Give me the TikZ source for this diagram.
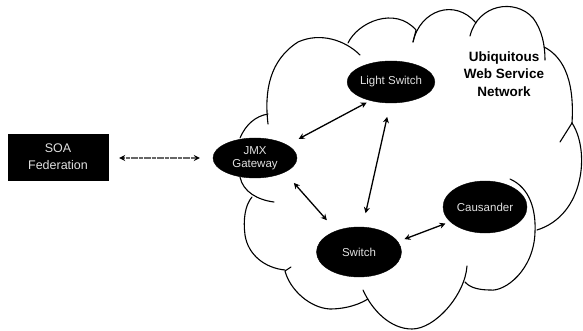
\documentclass[tikz,border=0pt]{standalone}
\usepackage{fontspec}
\setmainfont{Liberation Sans}
\usetikzlibrary{shapes.geometric,arrows.meta}
\tikzset{
  lobe/.style={draw=black,line width=1.1pt,line cap=round},
  dark/.style={ellipse,fill=black,draw=black,inner sep=0pt,text=black!12,align=center,font=\fontsize{11.5}{12.5}\selectfont},
  link/.style={line width=1.3pt,{Stealth[length=6pt,width=6pt]}-{Stealth[length=6pt,width=6pt]}},
  fedlink/.style={line width=2pt,draw=black!60,dash pattern=on 2.2pt off 0.4pt,{Stealth[length=6pt,width=6pt,black]}-{Stealth[length=6pt,width=6pt,black]}}
}
\begin{document}
\begin{tikzpicture}[x=1pt,y=-1pt]
\useasboundingbox (0,0) rectangle (583,331);
% cloud
\draw[lobe] (240,138) .. controls (246,124) and (256,116) .. (268,114);
\draw[lobe] (268,124) .. controls (264,90) and (270,60) .. (298,42) .. controls (320,32) and (345,40) .. (360,55);
\draw[lobe] (348,43) .. controls (358,22) and (395,6) .. (416,30) (416,30) -- (413,42);
\draw[lobe] (413,42) .. controls (420,10) and (455,-2) .. (476,23);
\draw[lobe] (470,36) .. controls (478,4) and (515,-2) .. (533,18) .. controls (542,30) and (545,45) .. (545,60);
\draw[lobe] (544,47) .. controls (560,55) and (575,75) .. (572,123);
\draw[lobe] (560,142) -- (572,123) .. controls (590,150) and (585,215) .. (537,230);
\draw[lobe] (510,179) .. controls (530,188) and (536,210) .. (535,232) .. controls (534,270) and (505,292) .. (490,290) .. controls (480,290) and (470,288) .. (465,282);
\draw[lobe] (467,266) .. controls (465,295) and (435,329) .. (412,329) .. controls (390,329) and (372,310) .. (363,290);
\draw[lobe] (368,299) .. controls (355,307) and (340,309) .. (330,309) .. controls (310,308) and (290,290) .. (285,271) (285,271) -- (291,267);
\draw[lobe] (285,270) .. controls (265,268) and (248,255) .. (245,235) .. controls (243,220) and (245,205) .. (252,197);
\draw[lobe] (274,202) .. controls (258,200) and (243,192) .. (240,177);
% nodes
\node[fill=black,draw=black,minimum width=100pt,minimum height=46pt,inner sep=0pt,text=black!12,align=center,font=\fontsize{12.5}{17}\selectfont] (soa) at (58,157) {SOA\\Federation};
\node[dark,minimum width=84pt,minimum height=40pt] (jmx) at (255,158) {JMX\\Gateway};
\node[dark,minimum width=86pt,minimum height=42pt] (light) at (391,82) {Light Switch};
\node[dark,minimum width=85pt,minimum height=50pt] (switch) at (359,252) {Switch};
\node[dark,minimum width=84pt,minimum height=52pt] (causa) at (485,207) {Causander};
\node[font=\bfseries\fontsize{13.5}{17.5}\selectfont,align=center,inner sep=0pt] (title) at (504,74) {Ubiquitous\\Web Service\\Network};
% connectors
\draw[fedlink,shorten <=11pt,shorten >=13pt] (soa.east |- jmx.west) -- (jmx.west);
\draw[link,shorten <=13pt,shorten >=4pt] (jmx.22) -- (light.222);
\draw[link,shorten <=14pt,shorten >=14pt] (light.268) -- (switch.82);
\draw[link,shorten <=14pt,shorten >=14pt] (jmx.-26) -- (switch.137);
\draw[link,shorten <=7pt,shorten >=5pt] (switch.15) -- (causa.203);
\end{tikzpicture}
\end{document}
